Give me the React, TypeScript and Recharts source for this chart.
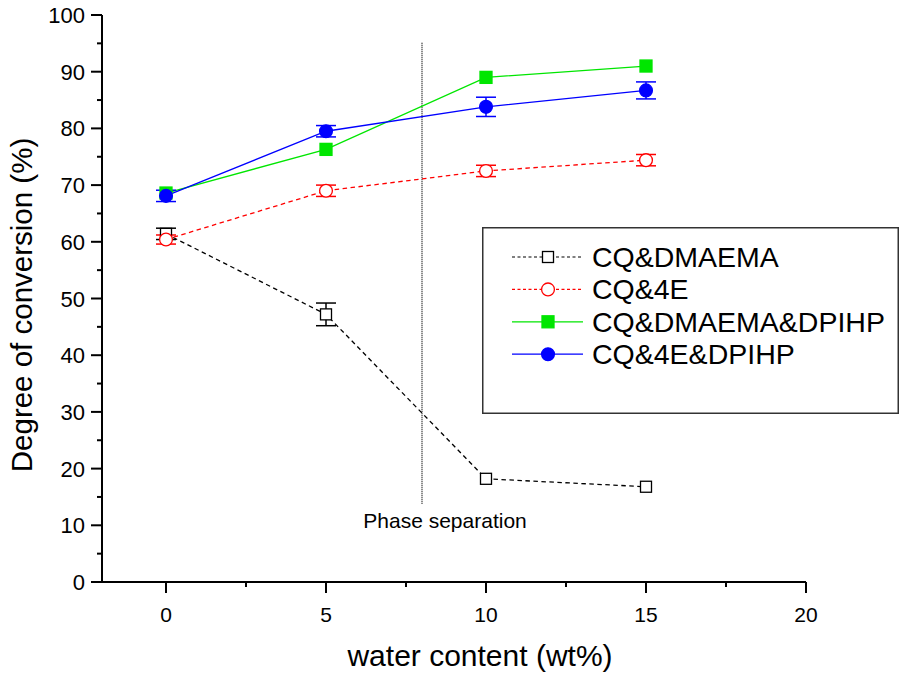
import React from "react";
import { LineChart, Line, XAxis, YAxis, ErrorBar, ReferenceLine, ReferenceDot, Legend, Label } from "recharts";

const FONT = '"Liberation Sans", Arial, sans-serif';

// water content (wt%)
const waterContent = [0, 5, 10, 15];

// degree of conversion (%) and error (0 = bar hidden behind the marker)
const cqDmaema = [61.4, 47.2, 18.2, 16.8];
const cqDmaemaErr = [1.0, 2.0, 0, 0];
const cq4e = [60.4, 69.0, 72.5, 74.4];
const cq4eErr = [0.8, 1.0, 1.0, 1.0];
const cqDmaemaDpihp = [68.6, 76.3, 89.0, 91.0];
const cqDmaemaDpihpErr = [0, 0, 0, 0];
const cq4eDpihp = [68.1, 79.5, 83.8, 86.7];
const cq4eDpihpErr = [1.0, 1.0, 1.7, 1.5];

const xTicks = [0, 2.5, 5, 7.5, 10, 12.5, 15, 17.5, 20];
const yTicks = [0, 5, 10, 15, 20, 25, 30, 35, 40, 45, 50, 55, 60, 65, 70, 75, 80, 85, 90, 95, 100];

const chartData = waterContent.map((w, i) => ({
  w,
  dm: cqDmaema[i],
  dmErr: cqDmaemaErr[i],
  e4: cq4e[i],
  e4Err: cq4eErr[i],
  dmd: cqDmaemaDpihp[i],
  dmdErr: cqDmaemaDpihpErr[i],
  e4d: cq4eDpihp[i],
  e4dErr: cq4eDpihpErr[i],
}));

type Series = {
  name: string;
  key: string;
  color: string;
  dashed: boolean;
  shape: "square" | "circle";
  filled: boolean;
};

const series: Series[] = [
  { name: "CQ&DMAEMA", key: "dm", color: "#000000", dashed: true, shape: "square", filled: false },
  { name: "CQ&4E", key: "e4", color: "#ff0000", dashed: true, shape: "circle", filled: false },
  { name: "CQ&DMAEMA&DPIHP", key: "dmd", color: "#00e600", dashed: false, shape: "square", filled: true },
  { name: "CQ&4E&DPIHP", key: "e4d", color: "#0000ff", dashed: false, shape: "circle", filled: true },
];

const marker = (s: Series, cx: number, cy: number, key?: string) => {
  const fill = s.filled ? s.color : "#ffffff";
  if (s.shape === "square") {
    const size = s.filled ? 12 : 11;
    return (
      <rect key={key} x={cx - size / 2} y={cy - size / 2} width={size} height={size}
        fill={fill} stroke={s.color} strokeWidth={1.3} />
    );
  }
  return <circle key={key} cx={cx} cy={cy} r={6.4} fill={fill} stroke={s.color} strokeWidth={1.3} />;
};

const makeDot = (s: Series) => (props: any) => {
  const { cx, cy, index } = props;
  if (cx == null || cy == null) return <g key={`d-${s.key}-${index}`} />;
  return marker(s, cx, cy, `d-${s.key}-${index}`);
};

const XTick = (props: any) => {
  const { x, y, payload } = props;
  const major = payload.value % 5 === 0;
  return (
    <g>
      <line x1={x} x2={x} y1={y} y2={y + (major ? 11 : 5)} stroke="#000" strokeWidth={2} />
      {major && (
        <text x={x} y={y + 40} textAnchor="middle" fontSize={21} fontFamily={FONT} fill="#000">
          {payload.value}
        </text>
      )}
    </g>
  );
};

const YTick = (props: any) => {
  const { x, y, payload } = props;
  const major = payload.value % 10 === 0;
  return (
    <g>
      <line x1={x} x2={x - (major ? 11 : 5)} y1={y} y2={y} stroke="#000" strokeWidth={2} />
      {major && (
        <text x={x - 17} y={y + 8} textAnchor="end" fontSize={22} fontFamily={FONT} fill="#000">
          {payload.value}
        </text>
      )}
    </g>
  );
};

const LegendBox = () => (
  <svg width={417} height={187} style={{ display: "block" }}>
    <rect x={0.75} y={0.75} width={415.5} height={185.5} fill="#ffffff" stroke="#333" strokeWidth={1.5} />
    {series.map((s, i) => {
      const cy = 30 + i * 32.4;
      return (
        <g key={s.key}>
          <line x1={30} x2={101} y1={cy} y2={cy} stroke={s.color} strokeWidth={1.2}
            strokeDasharray={s.dashed ? "3 2.5" : undefined} />
          {marker(s, 66, cy)}
          <text x={110} y={cy + 10} fontSize={28.5} fontFamily={FONT} fill="#000">
            {s.name}
          </text>
        </g>
      );
    })}
  </svg>
);

export default function App() {
  return (
    <div style={{ position: "absolute", left: 0, top: 0, width: 908, height: 684, background: "#fff" }}>
      <LineChart width={908} height={684} data={chartData}
        margin={{ top: 15, right: 102, bottom: 42, left: 22 }}>
        <XAxis dataKey="w" type="number" domain={[-2, 20]} ticks={xTicks} allowDataOverflow
          height={60} tickSize={0} tickMargin={0} tickLine={false} interval={0}
          axisLine={{ stroke: "#000", strokeWidth: 2 }} tick={<XTick />}>
          <Label content={() => (
            <text x={480} y={666} textAnchor="middle" fontSize={30} fontFamily={FONT} fill="#000">
              water content (wt%)
            </text>
          )} />
        </XAxis>
        <YAxis type="number" domain={[0, 100]} ticks={yTicks} width={80} interval={0}
          tickSize={0} tickMargin={0} tickLine={false}
          axisLine={{ stroke: "#000", strokeWidth: 2 }} tick={<YTick />}>
          <Label content={() => (
            <text x={32} y={305} transform="rotate(-90, 32, 305)" textAnchor="middle"
              fontSize={29.5} fontFamily={FONT} fill="#000">
              Degree of conversion (%)
            </text>
          )} />
        </YAxis>
        <ReferenceLine segment={[{ x: 8, y: 13.8 }, { x: 8, y: 95.1 }]} stroke="#000"
          strokeWidth={1.2} strokeDasharray="1 1" />
        <ReferenceDot x={8.72} y={10.8} r={0} stroke="none" fill="none"
          label={{ value: "Phase separation", position: "center", fontSize: 21, fontFamily: FONT, fill: "#000" }} />
        {series.map((s) => (
          <Line key={s.key} dataKey={s.key} name={s.name} stroke={s.color} strokeWidth={1.3}
            strokeDasharray={s.dashed ? "4.5 3.5" : undefined} dot={makeDot(s)} activeDot={false}
            isAnimationActive={false} type="linear">
            <ErrorBar dataKey={`${s.key}Err`} width={10} stroke={s.color} strokeWidth={1.5} direction="y" />
          </Line>
        ))}
        <Legend layout="vertical" align="center" verticalAlign="middle"
          wrapperStyle={{ left: 482, top: 227, width: 417, height: 187 }} content={() => <LegendBox />} />
      </LineChart>
    </div>
  );
}
